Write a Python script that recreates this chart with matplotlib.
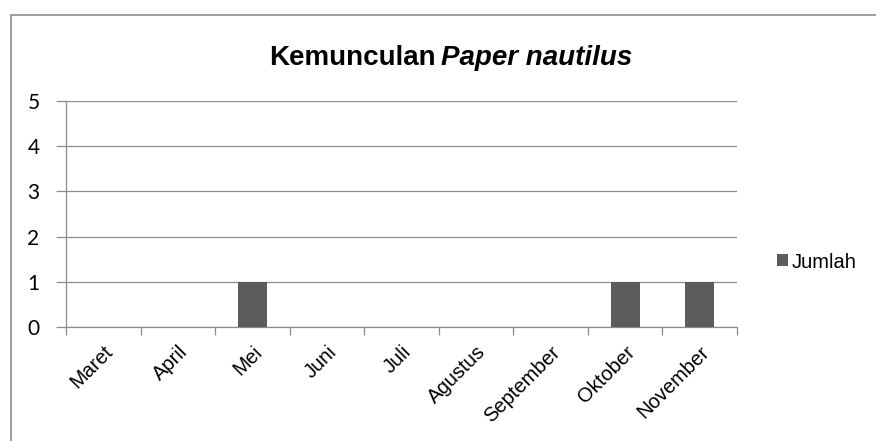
import numpy as np
import matplotlib
matplotlib.use("Agg")
import matplotlib.pyplot as plt
from matplotlib.patches import Rectangle

# data
months = ["Maret", "April", "Mei", "Juni", "Juli", "Agustus",
          "September", "Oktober", "November"]
jumlah = [0, 0, 1, 0, 0, 0, 0, 1, 1]

plt.rcParams["font.family"] = ["Liberation Sans", "DejaVu Sans"]

W, H = 876, 441
GREY = "#8c8c8c"
fig = plt.figure(figsize=(W / 100, H / 100), dpi=100)
ax = fig.add_axes([66 / W, 1 - 327 / H, (737 - 66) / W, (327 - 101) / H])

x = np.arange(len(months))
ax.bar(x, jumlah, width=0.39, color="#5c5c5c", label="Jumlah", zorder=3)

ax.set_xlim(-0.5, len(months) - 0.5)
ax.set_ylim(0, 5)
ax.set_yticks(range(0, 6))
ax.yaxis.grid(True, color=GREY, lw=0.9, zorder=0)

# ticks between categories, labels at centres
ax.set_xticks(np.arange(-0.5, len(months)))
ax.set_xticklabels([])
ax.set_xticks(x, minor=True)
ax.set_xticklabels(months, minor=True, rotation=45, ha="right",
                   rotation_mode="anchor", fontsize=14.5)
ax.tick_params(axis="x", which="minor", length=0, pad=11)
ax.tick_params(axis="x", which="major", length=6, color=GREY, width=0.9)
ax.tick_params(axis="y", length=7, color=GREY, width=0.9, pad=12)
for lbl in ax.get_yticklabels():
    lbl.set_fontfamily(["Lato", "DejaVu Sans"])
    lbl.set_fontsize(15)

for side in ("top", "right"):
    ax.spines[side].set_visible(False)
for side in ("left", "bottom"):
    ax.spines[side].set_color(GREY)
    ax.spines[side].set_linewidth(0.9)

ty = 1 - 58 / H
fig.text(436 / W, ty, "Kemunculan", fontsize=20, fontweight="bold",
         ha="right", va="center")
fig.text(441 / W, ty, "Paper nautilus", fontsize=20, fontweight="bold",
         style="italic", ha="left", va="center")

fig.legend(loc="center left", bbox_to_anchor=(777 / W, 1 - 262 / H),
           frameon=False, fontsize=14.5, handlelength=0.55, handleheight=0.55,
           handletextpad=0.2, borderaxespad=0, borderpad=0)

# chart-area border (cropped at right and bottom)
fig.patches.append(Rectangle((11 / W, -0.1), 1.0, (H - 15) / H + 0.1,
                             transform=fig.transFigure, fill=False,
                             edgecolor=GREY, lw=1.2))

fig.savefig("out.png", dpi=100)
